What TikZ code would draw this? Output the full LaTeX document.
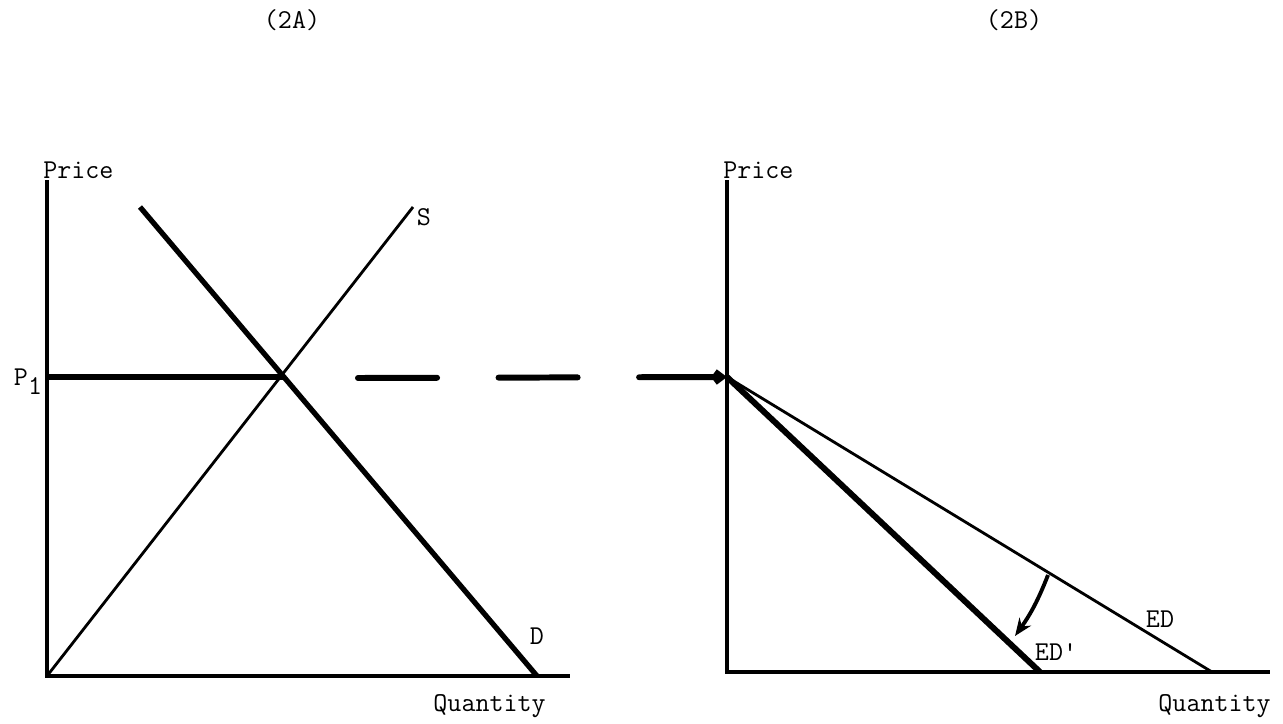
\documentclass[tikz,border=0pt]{standalone}
\usetikzlibrary{arrows.meta,positioning,calc}
\tikzset{
  lbl/.style={font=\ttfamily\fontsize{15.5}{18}\selectfont, inner sep=0pt},
  axis/.style={line width=2.2pt},
  heavy/.style={line width=3pt},
  light/.style={line width=1.6pt}
}
\begin{document}
\begin{tikzpicture}[x=0.02cm, y=-0.02cm]
  \useasboundingbox (0,0) rectangle (1283,723);
  % panel titles
  \node[lbl] (titleA) at (292,20) {(2A)};
  \node[lbl] (titleB) at (1014,20) {(2B)};
  % left panel: market
  \coordinate (oA) at (47,676);
  \coordinate (topA) at (47,180);
  \coordinate (endA) at (570,676);
  \draw[axis] (topA) -- (oA) -- (endA);
  \node[lbl, anchor=west] (priceA) at (43,170) {Price};
  \node[lbl, anchor=east] (quantA) at (546,706) {Quantity};
  \node[lbl] (pone) at (28,382) {P\raisebox{-0.75ex}{1}};
  \coordinate (pA) at (47,377);
  \coordinate (eq) at (283,377);
  \draw[heavy] (pA) -- (eq);
  % supply and demand
  \coordinate (sTop) at (413,207);
  \coordinate (dTop) at (140,207);
  \coordinate (dEnd) at (537,676);
  \draw[light] (oA) -- (sTop);
  \draw[heavy] (dTop) -- (dEnd);
  \node[lbl] (sLbl) at (424,217) {S};
  \node[lbl] (dLbl) at (537,636) {D};
  % link to right panel
  \coordinate (dashStart) at (358,378);
  \coordinate (pB) at (727,377);
  \draw[line width=3.4pt, line cap=round, dash pattern=on 45pt off 35pt, -{Straight Barb[length=4pt,width=6pt]}] (dashStart) -- (pB);
  % right panel: excess demand
  \coordinate (oB) at (727,672);
  \coordinate (topB) at (727,180);
  \coordinate (endB) at (1270,672);
  \draw[axis] (topB) -- (oB) -- (endB);
  \node[lbl, anchor=west] (priceB) at (723,170) {Price};
  \node[lbl, anchor=east] (quantB) at (1271,706) {Quantity};
  \coordinate (edEnd) at (1212,672);
  \coordinate (edpEnd) at (1040,672);
  \draw[light] (pB) -- (edEnd);
  \draw[line width=3.4pt] (pB) -- (edpEnd);
  \node[lbl] (edLbl) at (1160,619) {ED};
  \node[lbl] (edpLbl) at (1056,652) {ED'};
  % shift of the curve
  \coordinate (shiftFrom) at (1048,575);
  \coordinate (shiftTo) at (1015,636);
  \draw[line width=2.2pt, -{Stealth[length=10pt,width=8pt]}] (shiftFrom) to[bend left=7] (shiftTo);
\end{tikzpicture}
\end{document}
